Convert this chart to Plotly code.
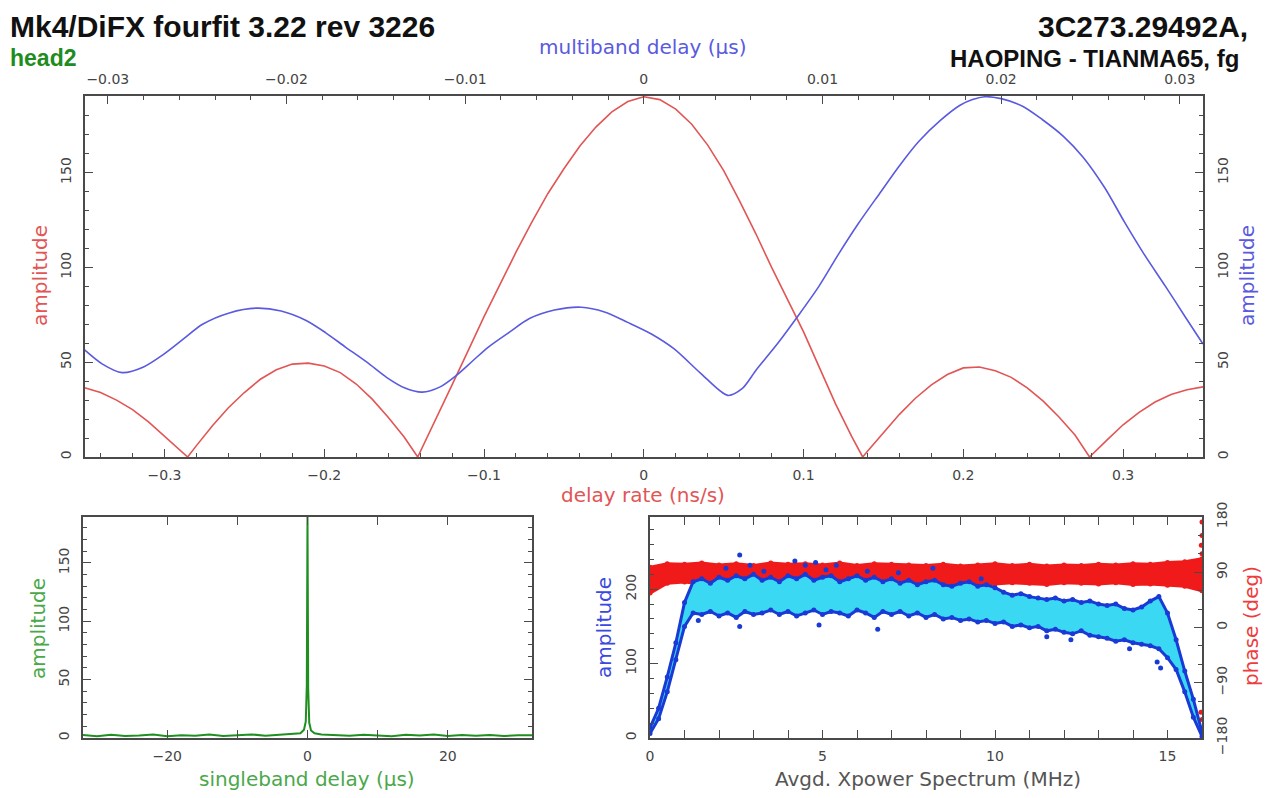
import plotly.graph_objects as go

# ---------------- data ----------------
# delay-rate spectrum (red), x in ns/s
rate_x = [-0.35, -0.34, -0.33, -0.32, -0.31, -0.30, -0.29, -0.2855,
          -0.28, -0.27, -0.26, -0.25, -0.24, -0.23, -0.22, -0.21, -0.20, -0.19, -0.18, -0.17, -0.16, -0.15, -0.1415,
          -0.13, -0.12, -0.11, -0.10, -0.09, -0.08, -0.07, -0.06, -0.05, -0.04, -0.03, -0.02, -0.01, 0.0,
          0.01, 0.02, 0.03, 0.04, 0.05, 0.06, 0.07, 0.08, 0.09, 0.10, 0.11, 0.12, 0.13, 0.137,
          0.14, 0.15, 0.16, 0.17, 0.18, 0.19, 0.20, 0.21, 0.22, 0.23, 0.24, 0.25, 0.26, 0.27, 0.279,
          0.29, 0.30, 0.31, 0.32, 0.33, 0.34, 0.35]
rate_amp = [36.5, 34, 30, 25, 18.5, 11, 3.5, 0,
            6, 16.5, 26, 34, 41, 46, 49, 49.5, 48, 44.5, 38.5, 30.5, 21, 10.5, 0,
            20, 38, 56, 74, 91, 108, 124, 139, 152, 164, 174, 182, 187.5, 190,
            188.5, 183.5, 175.5, 164.5, 151, 135, 118, 100, 83, 66, 47, 28, 11, 0,
            3, 13, 22.5, 31, 38, 43.5, 47, 47.5, 45.5, 42, 36.5, 29.5, 21, 11.5, 0,
            9, 17, 23.5, 29, 33, 35.5, 37]

# multiband delay function (blue), x in microseconds
mbd_x = [-0.0313, -0.0303, -0.0292, -0.0280, -0.0269, -0.0258, -0.0247, -0.0232, -0.0217, -0.0203,
         -0.0189, -0.0178, -0.0167, -0.0155, -0.0144, -0.0134, -0.0124, -0.0114, -0.0105, -0.0096,
         -0.0087, -0.0075, -0.0064, -0.0050, -0.0035, -0.0022, -0.0009, 0.0004, 0.0017, 0.0032,
         0.0047, 0.0055, 0.0063, 0.0075, 0.0086, 0.0098, 0.0109, 0.0120, 0.0132, 0.0143,
         0.0154, 0.0166, 0.0177, 0.0184, 0.0191, 0.0200, 0.0212, 0.0223, 0.0235, 0.0246,
         0.0258, 0.0269, 0.0280, 0.0292, 0.0303, 0.0313]
mbd_amp = [56.5, 49, 44.5, 47.5, 54, 62, 70, 76, 78.5, 77,
           72, 65.5, 58, 50, 42, 36.5, 34.2, 37, 43, 50.5,
           58, 66, 73, 77.5, 79, 76.5, 71, 65, 57, 44,
           32.5, 36, 46, 60, 74, 90, 107, 123, 139, 153.5,
           166.5, 177.5, 185.5, 188.5, 190, 189, 185, 178, 169, 158,
           142, 124, 107, 90, 74, 59.6]

# singleband delay function (green), x in microseconds
sbd_x = [-32, -30, -28, -26, -24, -22, -20, -18, -16, -14, -12, -10, -8, -6, -4, -2, -1, -0.5, -0.25, -0.1, 0,
         0.1, 0.25, 0.5, 1, 2, 4, 6, 8, 10, 12, 14, 16, 18, 20, 22, 24, 26, 28, 30, 32]
sbd_amp = [2.5, 1.5, 2.8, 1.8, 2.2, 3.0, 1.6, 2.4, 2.0, 2.9, 1.7, 2.6, 3.1, 2.0, 2.7, 3.2, 4.0, 7.0, 14, 45, 190,
           42, 13, 6.5, 4.0, 3.0, 2.4, 1.9, 2.8, 2.2, 1.6, 2.7, 2.1, 2.9, 1.8, 2.5, 2.0, 2.6, 1.7, 2.3, 2.4]

# cross-power spectrum
freq = [0.00, 0.25, 0.50, 0.75, 1.00, 1.25, 1.50, 1.75, 2.00, 2.25, 2.50, 2.75, 3.00, 3.25, 3.50, 3.75,
        4.00, 4.25, 4.50, 4.75, 5.00, 5.25, 5.50, 5.75, 6.00, 6.25, 6.50, 6.75, 7.00, 7.25, 7.50, 7.75,
        8.00, 8.25, 8.50, 8.75, 9.00, 9.25, 9.50, 9.75, 10.00, 10.25, 10.50, 10.75, 11.00, 11.25, 11.50, 11.75,
        12.00, 12.25, 12.50, 12.75, 13.00, 13.25, 13.50, 13.75, 14.00, 14.25, 14.50, 14.75, 15.00, 15.25, 15.50, 15.75,
        16.00]
amp_hi = [14, 40, 82, 128, 182, 210, 214, 208, 216, 212, 218, 214, 220, 212, 216, 210,
          218, 214, 220, 212, 216, 218, 210, 214, 218, 212, 216, 210, 214, 208, 212, 206,
          210, 212, 206, 204, 208, 210, 204, 206, 202, 196, 192, 194, 190, 188, 186, 188,
          184, 186, 182, 184, 180, 178, 180, 174, 172, 176, 184, 190, 168, 132, 90, 52,
          8]
amp_lo = [6, 26, 62, 105, 150, 168, 166, 170, 164, 168, 162, 170, 166, 168, 172, 166,
          170, 164, 168, 172, 166, 170, 168, 164, 172, 168, 162, 170, 166, 170, 164, 168,
          162, 166, 160, 162, 158, 160, 156, 158, 154, 156, 150, 152, 148, 150, 144, 146,
          142, 140, 144, 138, 136, 134, 130, 132, 128, 126, 124, 120, 108, 92, 62, 28,
          2]
out_f = [2.6, 2.2, 2.9, 3.3, 4.2, 4.5, 4.8, 5.1, 5.4, 6.3, 7.2, 1.4, 2.6, 4.9, 6.6, 8.2, 9.6, 11.5, 12.2, 14.8, 14.7, 13.9]
out_amp = [246, 228, 232, 224, 238, 232, 236, 226, 232, 224, 222, 158, 150, 152, 146, 228, 214, 136, 132, 94, 102, 120]

ph_f = [0.0, 0.5, 1.0, 1.5, 2.0, 2.5, 3.0, 3.5, 4.0, 4.5, 5.0, 5.5, 6.0, 6.5, 7.0, 7.5,
        8.0, 8.5, 9.0, 9.5, 10.0, 10.5, 11.0, 11.5, 12.0, 12.5, 13.0, 13.5, 14.0, 14.5, 15.0, 15.5, 16.0]
ph_hi = [98, 104, 103, 105, 102, 104, 101, 105, 103, 104, 102, 105, 101, 104, 103, 102,
         101, 103, 100, 102, 104, 101, 103, 100, 102, 101, 103, 102, 104, 103, 106, 107, 112]
ph_lo = [56, 72, 74, 71, 74, 72, 73, 70, 73, 72, 74, 71, 73, 72, 70, 73,
         72, 71, 73, 72, 71, 73, 72, 70, 73, 72, 71, 73, 70, 71, 69, 67, 60]
ph_out_f = [16.0, 16.0, 15.98, 16.0, 15.97, 16.0]
ph_out = [172, 150, 134, 120, -138, -150]

# ---------------- styles ----------------
RED = "#e25555"
BLUE = "#5a5ae0"
GREEN = "#1f8f1f"
GREEN_T = "#4aa84a"
AX = "#4a4a4a"
TICKF = dict(family="DejaVu Sans", size=14, color="#444")
TITLEF = 20
OFF = 8                      # page body margin of the html page
W, H = 1274 - OFF, 798 - OFF


def px(x):
    return (x - OFF) / W


def py(y):
    return 1 - (y - OFF) / H


fig = go.Figure()

fig.add_trace(go.Scatter(x=rate_x, y=rate_amp, mode="lines", line=dict(color=RED, width=1.6),
                         xaxis="x", yaxis="y", showlegend=False))
fig.add_trace(go.Scatter(x=mbd_x, y=mbd_amp, mode="lines", line=dict(color=BLUE, width=1.6, shape="spline", smoothing=0.8),
                         xaxis="x2", yaxis="y2", showlegend=False))
fig.add_trace(go.Scatter(x=sbd_x, y=sbd_amp, mode="lines", line=dict(color=GREEN, width=2),
                         xaxis="x3", yaxis="y3", showlegend=False))

# phase (base axis y4, right side)
fig.add_trace(go.Scatter(x=ph_f, y=ph_lo, mode="lines+markers", line=dict(color="#f01a1a", width=3),
                         marker=dict(color="#f01a1a", size=5), xaxis="x4", yaxis="y4", showlegend=False))
fig.add_trace(go.Scatter(x=ph_f, y=ph_hi, mode="lines+markers", line=dict(color="#f01a1a", width=3),
                         marker=dict(color="#f01a1a", size=5), fill="tonexty", fillcolor="#f01a1a",
                         xaxis="x4", yaxis="y4", showlegend=False))
fig.add_trace(go.Scatter(x=ph_out_f, y=ph_out, mode="markers", marker=dict(color="#f01a1a", size=5),
                         xaxis="x4", yaxis="y4", showlegend=False))

# amplitude (overlaying axis y5, left side)
fig.add_trace(go.Scatter(x=freq, y=amp_lo, mode="lines+markers", line=dict(color="#1a3ad6", width=3),
                         marker=dict(color="#1a3ad6", size=5), xaxis="x4", yaxis="y5", showlegend=False))
fig.add_trace(go.Scatter(x=freq, y=amp_hi, mode="lines+markers", line=dict(color="#1a3ad6", width=3),
                         marker=dict(color="#1a3ad6", size=5), fill="tonexty", fillcolor="#3ad8f2",
                         xaxis="x4", yaxis="y5", showlegend=False))
fig.add_trace(go.Scatter(x=out_f, y=out_amp, mode="markers", marker=dict(color="#1a3ad6", size=5),
                         xaxis="x4", yaxis="y5", showlegend=False))

common = dict(showgrid=False, zeroline=False, showline=True, linecolor=AX, linewidth=2, automargin=False,
              ticks="inside", ticklen=8, tickwidth=1.3, tickcolor=AX, tickfont=TICKF)

top_dom_x = [px(84.6), px(1203)]
top_dom_y = [py(457), py(96)]
bl_dom_x = [px(83), px(532)]
br_dom_x = [px(650), px(1202)]
bot_dom_y = [py(738), py(517)]

fig.update_layout(
    width=W, height=H, margin=dict(l=0, r=0, t=0, b=0),
    paper_bgcolor="white", plot_bgcolor="rgba(0,0,0,0)",
    xaxis=dict(common, domain=top_dom_x, anchor="y", range=[-0.35, 0.35], dtick=0.1, tick0=0,
               minor=dict(ticks="inside", ticklen=4, dtick=0.02, tickcolor=AX), ticklabelstandoff=4),
    xaxis2=dict(common, domain=top_dom_x, anchor="y", overlaying="x", side="top",
                range=[-0.0313, 0.0313], dtick=0.01, tick0=0,
                minor=dict(ticks="inside", ticklen=4, dtick=0.002, tickcolor=AX), ticklabelstandoff=4),
    yaxis=dict(common, domain=top_dom_y, anchor="x", range=[0, 190.4], dtick=50, tickangle=-90,
               minor=dict(ticks="inside", ticklen=4, dtick=10, tickcolor=AX), ticklabelstandoff=6),
    yaxis2=dict(common, domain=top_dom_y, anchor="x", overlaying="y", side="right", range=[0, 190.4],
                dtick=50, tickangle=-90, minor=dict(ticks="inside", ticklen=4, dtick=10, tickcolor=AX),
                ticklabelstandoff=6),
    xaxis3=dict(common, domain=bl_dom_x, anchor="y3", range=[-32, 32], mirror="allticks",
                tickvals=[-20, -10, 0, 10, 20], ticktext=["\u221220", "", "0", "", "20"],
                ticklabelstandoff=4),
    yaxis3=dict(common, domain=bot_dom_y, anchor="x3", range=[0, 189.4], dtick=50, tickangle=-90,
                mirror="allticks", minor=dict(ticks="inside", ticklen=4, dtick=10, tickcolor=AX),
                ticklabelstandoff=6),
    xaxis4=dict(common, domain=br_dom_x, anchor="y4", range=[0, 16], dtick=5, mirror="allticks",
                minor=dict(ticks="inside", ticklen=4, dtick=1, tickcolor=AX), ticklabelstandoff=4),
    yaxis4=dict(common, domain=bot_dom_y, anchor="x4", side="right", range=[-180, 180],
                tickvals=[-180, -90, 0, 90, 180], tickangle=-90,
                minor=dict(ticks="inside", ticklen=4, dtick=30, tickcolor=AX), ticklabelstandoff=6),
    yaxis5=dict(common, domain=bot_dom_y, anchor="x4", overlaying="y4", side="left", range=[0, 297],
                dtick=100, tickangle=-90, minor=dict(ticks="inside", ticklen=4, dtick=20, tickcolor=AX),
                ticklabelstandoff=6),
)


def ann(text, x, y, color, size, xanchor="center", angle=0, bold=False, family="DejaVu Sans"):
    fig.add_annotation(text=("<b>%s</b>" % text) if bold else text, x=px(x), y=py(y), xref="paper", yref="paper",
                       xanchor=xanchor, yanchor="middle", showarrow=False, textangle=angle,
                       font=dict(family=family, size=size, color=color))


ann("Mk4/DiFX fourfit 3.22 rev 3226", 8, 26, "#111", 30, xanchor="left", bold=True, family="Liberation Sans")
ann("head2", 8, 58, "#1e8c1e", 23, xanchor="left", bold=True, family="Liberation Sans")
ann("3C273.29492A,", 1250, 26, "#111", 30, xanchor="right", bold=True, family="Liberation Sans")
ann("HAOPING - TIANMA65, fg", 948, 58, "#111", 24, xanchor="left", bold=True, family="Liberation Sans")

ann("multiband delay (\u03bcs)", 643, 47, BLUE, TITLEF)
ann("delay rate (ns/s)", 643, 495, RED, TITLEF)
ann("amplitude", 40, 276, RED, TITLEF, angle=-90)
ann("amplitude", 1247, 276, BLUE, TITLEF, angle=-90)
ann("amplitude", 38, 628, GREEN_T, TITLEF, angle=-90)
ann("singleband delay (\u03bcs)", 307, 779, GREEN_T, TITLEF)
ann("amplitude", 604, 628, "#3a4ae0", TITLEF, angle=-90)
ann("phase (deg)", 1251, 626, "#ee3b3b", TITLEF, angle=-90)
ann("Avgd. Xpower Spectrum (MHz)", 928, 779, "#555", TITLEF)

fig.write_html("out.html")
